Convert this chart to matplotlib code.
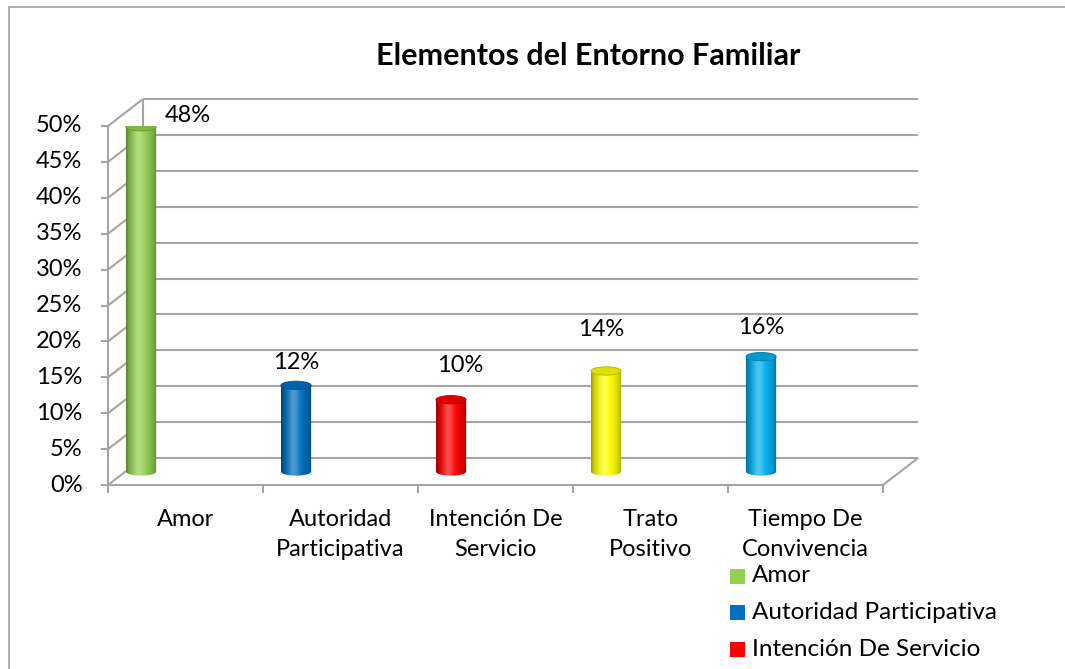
import numpy as np
import matplotlib.pyplot as plt
from matplotlib.patches import Rectangle, Ellipse, Polygon
from matplotlib.lines import Line2D
from matplotlib.colors import to_rgb

# data
categories = ["Amor", "Autoridad Participativa", "Intención De Servicio",
              "Trato Positivo", "Tiempo De Convivencia"]
axis_labels = ["Amor", "Autoridad\nParticipativa", "Intención De\nServicio",
               "Trato\nPositivo", "Tiempo De\nConvivencia"]
values = [0.48, 0.12, 0.10, 0.14, 0.16]
colors = ["#92D050", "#0070C0", "#FF0000", "#FFFF00", "#00B0F0"]
yticks = np.arange(0, 0.501, 0.05)

# layout of the fake 3d box (category units / value units)
DX, DY = 0.226, 0.0376       # depth offset front -> back wall
BAR_SHIFT = -0.4             # cylinder position relative to category center (front plane)
BAR_W = 0.195
RY = 0.0058                  # half height of the cylinder ellipses
label_dx = [0.30, 0.0, 0.06, -0.03, 0.0]
label_dy = [0.034, 0.051, 0.066, 0.076, 0.06]
N_LEGEND_VISIBLE = 3         # the rest of the legend falls below the picture

FONT = "Lato"
FS = 17
GRID = "#a5a5a5"
W, H = 1065, 669

fig = plt.figure(figsize=(W / 100, H / 100), dpi=100)
ax = fig.add_axes([108 / W, 1 - 485 / H, 775 / W, 359 / H])
ax.set_xlim(-0.5, 4.5)
ax.set_ylim(0, 0.5)
ax.axis("off")

# chart area border, only top and left are inside the picture
fig.lines.append(Line2D([9 / W, 9 / W, 1.0], [0.0, 1 - 7 / H, 1 - 7 / H],
                        transform=fig.transFigure, color="#a0a0a0", lw=1.2))

x0, x1 = -0.5, 4.5
kw = dict(color=GRID, lw=1.5, clip_on=False, zorder=1, solid_capstyle="butt")

# back wall gridlines + side wall diagonals
for t in yticks:
    ax.plot([x0 + DX, x1 + DX], [t + DY, t + DY], **kw)
    ax.plot([x0, x0 + DX], [t, t + DY], **kw)
    ax.plot([x0 - 0.045, x0], [t, t], **kw)
ax.plot([x0 + DX, x0 + DX], [DY, 0.5 + DY], **kw)
# front axis and floor
ax.plot([x0, x0], [0, 0.5], **kw)
ax.plot([x0, x1], [0, 0], **kw)
ax.plot([x1, x1 + DX], [0, DY], **kw)
for i in range(len(categories) + 1):
    ax.plot([x0 + i, x0 + i], [0, -0.011], **kw)

for t in yticks:
    ax.text(x0 - 0.165, t, f"{t:.0%}", ha="right", va="center",
            fontsize=FS, family=FONT, clip_on=False)


def shade(base, n=80):
    c = np.array(to_rgb(base))
    t = np.linspace(0, 1, n)
    s = np.sin(np.pi * t) ** 0.55
    h = np.exp(-((t - 0.4) / 0.18) ** 2)
    col = c[None, :] * (0.58 + 0.42 * s[:, None]) + (1 - c[None, :]) * 0.3 * h[:, None]
    return np.clip(col, 0, 1)[None, :, :]


for i, (v, c) in enumerate(zip(values, colors)):
    cx = i + BAR_SHIFT + DX / 2
    yb, yt = DY / 2, v + DY / 2
    xa, xb = cx - BAR_W / 2, cx + BAR_W / 2
    th = np.linspace(np.pi, 2 * np.pi, 40)
    pts = [(xa, yt), (xa, yb)] + list(zip(cx + BAR_W / 2 * np.cos(th), yb + RY * np.sin(th))) \
        + [(xb, yb), (xb, yt)]
    clip = Polygon(pts, closed=True, transform=ax.transData, visible=False)
    ax.add_patch(clip)
    im = ax.imshow(shade(c), extent=[xa, xb, yb - RY, yt], aspect="auto",
                   interpolation="bilinear", zorder=3)
    im.set_clip_path(clip)
    cc = np.array(to_rgb(c))
    ax.add_patch(Ellipse((cx, yt), BAR_W, 2 * RY, facecolor=cc * 0.88,
                         edgecolor=cc * 0.7, lw=0.6, zorder=4))
    ax.text(cx + label_dx[i], v + label_dy[i], f"{v:.0%}",
            ha="center", va="center", fontsize=FS, family=FONT, clip_on=False)

ax.set_xlim(-0.5, 4.5)
ax.set_ylim(0, 0.5)

for i, lab in enumerate(axis_labels):
    ax.text(i, -0.033, lab, ha="center", va="top", fontsize=FS, family=FONT,
            linespacing=1.55, clip_on=False)

fig.text(588 / W, 1 - 56 / H, "Elementos del Entorno Familiar",
         ha="center", va="center", fontsize=22, fontweight="bold", family=FONT)

# legend, only the entries that fit in the picture
for k in range(N_LEGEND_VISIBLE):
    yc = 576 + 36.5 * k
    fig.patches.append(Rectangle((730 / W, 1 - (yc + 7.5) / H), 15 / W, 15 / H,
                                 transform=fig.transFigure, facecolor=colors[k],
                                 edgecolor="none"))
    fig.text(752 / W, 1 - yc / H, categories[k], ha="left", va="center",
             fontsize=17.5, family=FONT)

fig.savefig("out.png", dpi=100)
